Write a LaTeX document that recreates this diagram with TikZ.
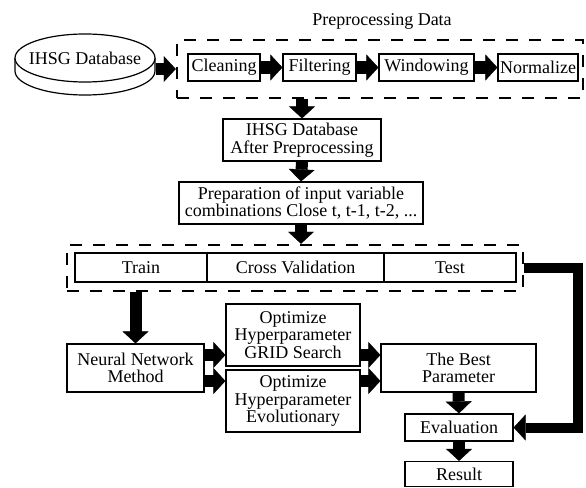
\documentclass[tikz,border=0pt]{standalone}
\usepackage{fontspec}
\setmainfont{Liberation Serif}
\usetikzlibrary{arrows.meta,shapes.geometric}
\newcommand\diagfont{\fontsize{18}{17.5}\selectfont}
\begin{document}
\begin{tikzpicture}[x=1pt,y=-1pt,
  box/.style={draw, line width=1.2pt, inner sep=0pt, align=center, font=\diagfont},
  dbox/.style={draw, line width=2.5pt, dash pattern=on 12pt off 11pt, inner sep=0pt},
  blk/.style={line width=12pt, -{Triangle[length=12pt,width=26pt,line width=0.4pt]}},
]
\useasboundingbox (0,0) rectangle (586,487);

% title of the preprocessing stage
\node[font=\diagfont] (title) at (382,21) {Preprocessing Data};

% database disk
\draw[line width=1.2pt, fill=white] (15,58) -- (15,71)
  .. controls (15,84.3) and (46.3,95) .. (85,95)
  .. controls (123.7,95) and (155,84.3) .. (155,71) -- (155,58);
\node[draw, ellipse, line width=1.2pt, fill=white, inner sep=0pt,
      minimum width=140pt, minimum height=48pt] (db) at (85,58) {};
\node[font=\diagfont] (dbtext) at (db.center) {IHSG Database};

% preprocessing group
\node[dbox, minimum width=406pt, minimum height=58pt] (pre) at (380,69) {};
\node[box, minimum width=72pt, minimum height=27pt] (clean) at (224,67.5) {Cleaning};
\node[box, minimum width=73pt, minimum height=27pt] (filt) at (319.5,67.5) {Filtering};
\node[box, minimum width=95pt, minimum height=27pt] (wind) at (426.5,67.5) {Windowing};
\node[box, minimum width=80pt, minimum height=27pt] (norm) at (538,67.5) {Normalize};

\draw[blk] (db.east |- pre.west) -- (pre.west);
\draw[blk] (clean.east) -- (filt.west);
\draw[blk] (filt.east) -- (wind.west);
\draw[blk] (wind.east) -- (norm.west);

% main flow
\node[box, minimum width=158pt, minimum height=42pt] (ap) at (302,140)
  {IHSG Database\\After Preprocessing};
\node[box, minimum width=244pt, minimum height=42pt] (prep) at (301,203)
  {Preparation of input variable\\combinations Close t, t-1, t-2, ...};

\draw[blk] (ap.north |- pre.south) -- (ap.north);
\draw[blk] (ap.south) -- (prep.north);

% data split
\node[dbox, minimum width=456pt, minimum height=46pt] (split) at (295,268) {};
\node[box, minimum width=132pt, minimum height=29pt] (train) at (141,267.5) {Train};
\node[box, minimum width=177pt, minimum height=29pt] (cv) at (295.5,267.5) {Cross Validation};
\node[box, minimum width=132pt, minimum height=29pt] (test) at (450,267.5) {Test};

\draw[blk] (prep.south) -- (prep.south |- split.north);

% model and tuning
\node[box, minimum width=137pt, minimum height=48pt] (nn) at (135.5,368) {Neural Network\\Method};
\node[box, minimum width=134pt, minimum height=62pt] (grid) at (293,335)
  {Optimize\\Hyperparameter\\GRID Search};
\node[box, minimum width=134pt, minimum height=62pt] (evo) at (293,401)
  {Optimize\\Hyperparameter\\Evolutionary};
\node[box, minimum width=155pt, minimum height=48pt] (best) at (458.5,368) {The Best\\Parameter};
\node[box, minimum width=108pt, minimum height=27pt] (eval) at (459,427.5) {Evaluation};
\node[box, minimum width=108pt, minimum height=25pt] (result) at (459,474) {Result};

\draw[blk] (nn.north |- split.south) -- (nn.north);
\draw[blk] ([yshift=13pt]nn.east) -- ([yshift=13pt]nn.east -| grid.west);
\draw[blk] ([yshift=-13pt]nn.east) -- ([yshift=-13pt]nn.east -| evo.west);
\draw[blk] ([yshift=13pt]best.west -| grid.east) -- ([yshift=13pt]best.west);
\draw[blk] ([yshift=-13pt]best.west -| evo.east) -- ([yshift=-13pt]best.west);
\draw[blk] (best.south) -- (eval.north);
\draw[blk] (eval.south) -- (result.north);

% test data goes straight to evaluation
\coordinate (turn) at (578,268);
\draw[blk, line width=10pt] (split.east) -- (turn) -- (turn |- eval.east) -- (eval.east);
\end{tikzpicture}
\end{document}
